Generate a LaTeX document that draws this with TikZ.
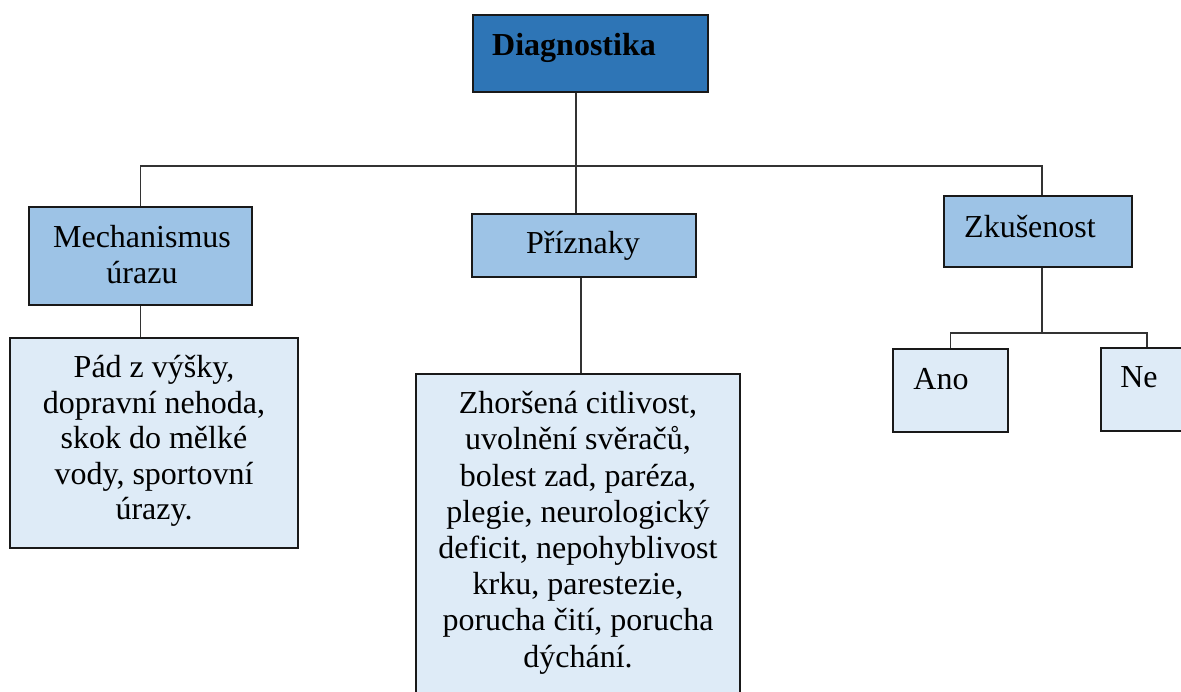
\documentclass[tikz,border=0pt]{standalone}
\usepackage{fontspec}
\setmainfont{Liberation Serif}
\usetikzlibrary{fit}

\definecolor{topblue}{HTML}{2E75B6}
\definecolor{midblue}{HTML}{9DC3E6}
\definecolor{lightblue}{HTML}{DEEBF7}

\tikzset{
  box/.style={draw=black!90, line width=1pt, inner sep=0pt},
  lbl/.style={inner sep=0pt, align=center, font=\fontsize{16pt}{17.75pt}\selectfont},
  link/.style={draw=black!80, line width=0.9pt}
}

\begin{document}
\begin{tikzpicture}[x=0.5pt,y=-0.5pt]
  \useasboundingbox (0,0) rectangle (1181,691);
  % boxes
  \node[box, fill=topblue, fit={(473,15) (708,92)}] (diag) {};
  \node[box, fill=midblue, fit={(29,207) (252,305)}] (mech) {};
  \node[box, fill=midblue, fit={(472,214) (696,277)}] (prizn) {};
  \node[box, fill=midblue, fit={(944,196) (1132,267)}] (zkus) {};
  \node[box, fill=lightblue, fit={(10,338) (298,548)}] (pad) {};
  \node[box, fill=lightblue, fit={(416,374) (740,730)}] (zhor) {};
  \node[box, fill=lightblue, fit={(893,349) (1008,432)}] (ano) {};
  \node[box, fill=lightblue, fit={(1101,348) (1193,431)}] (ne) {};
  % texts
  \node[lbl, anchor=base] (diagt) at (574,55) {\bfseries Diagnostika};
  \node[lbl, anchor=north] (mecht) at (142,225) {Mechanismus\\úrazu};
  \node[lbl, anchor=base] (prsznt) at (583,253) {Příznaky};
  \node[lbl, anchor=base] (zkust) at (1030,237) {Zkušenost};
  \node[lbl, anchor=north] (padt) at (154,355) {Pád z výšky,\\dopravní nehoda,\\skok do mělké\\vody, sportovní\\úrazy.};
  \node[lbl, anchor=north, font=\fontsize{16pt}{18.1pt}\selectfont] (zhort) at (578,391) {Zhoršená citlivost,\\uvolnění svěračů,\\bolest zad, paréza,\\plegie, neurologický\\deficit, nepohyblivost\\krku, parestezie,\\porucha čití, porucha\\dýchání.};
  \node[lbl, anchor=base] (anot) at (941,389) {Ano};
  \node[lbl, anchor=base] (net) at (1139,387) {Ne};
  % connectors
  \coordinate (bus) at (576,166);
  \coordinate (zbus) at (1042,333);
  \draw[link] (diag.south -| bus) -- (bus);
  \draw[link] (mech.north) |- (bus) -| (zkus.north -| zbus);
  \draw[link] (bus) -- (prizn.north -| bus);
  \draw[link] (mech.south) -- (mech.south |- pad.north);
  \draw[link] (prizn.south -| 581,0) -- (zhor.north -| 581,0);
  \draw[link] (zkus.south -| zbus) -- (zbus);
  \draw[link] (ano.north) |- (zbus) -| (ne.north);
\end{tikzpicture}
\end{document}
